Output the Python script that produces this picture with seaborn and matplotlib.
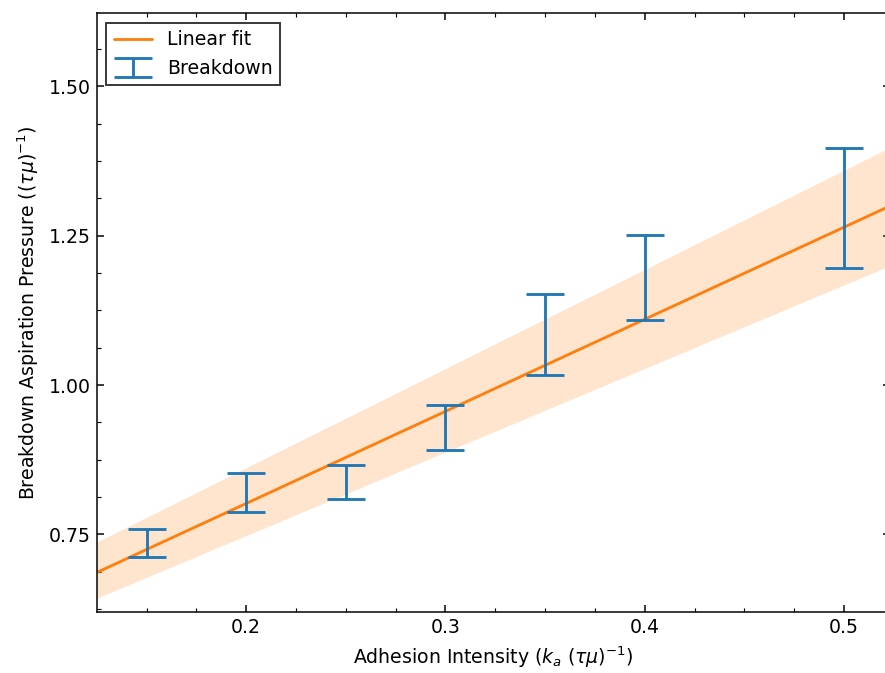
import matplotlib
matplotlib.use("Agg")
import matplotlib.pyplot as plt
import seaborn as sns
import numpy as np
from matplotlib.ticker import MultipleLocator

# ---- data ----
adhesion = [0.15, 0.20, 0.25, 0.30, 0.35, 0.40, 0.50]
pressure_mid = [0.7355, 0.820, 0.8375, 0.929, 1.084, 1.180, 1.297]
pressure_err = [0.0235, 0.033, 0.0285, 0.038, 0.068, 0.0715, 0.1005]

fit_x = [0.120, 0.530]
fit_y = [0.6783, 1.3105]
band_lo = [0.6360, 1.2096]
band_hi = [0.7287, 1.4095]

xticks = [0.2, 0.3, 0.4, 0.5]
yticks = [0.75, 1.00, 1.25, 1.50]
ytick_labels = ["0.75", "1.00", "1.25", "1.50"]

DPI = 136
sns.set_theme(style="ticks")
plt.rcParams.update({
    "font.family": ["DejaVu Sans"],
    "font.size": 10,
    "axes.linewidth": 0.8,
    "xtick.direction": "in",
    "ytick.direction": "in",
    "xtick.top": True,
    "ytick.right": True,
    "xtick.color": "black",
    "ytick.color": "black",
    "axes.edgecolor": "black",
    "axes.labelcolor": "black",
    "text.color": "black",
    "xtick.major.size": 3.5,
    "ytick.major.size": 3.5,
    "xtick.minor.size": 2,
    "ytick.minor.size": 2,
    "xtick.major.width": 0.8,
    "ytick.major.width": 0.8,
    "xtick.minor.width": 0.6,
    "ytick.minor.width": 0.6,
    "xtick.labelsize": 10,
    "ytick.labelsize": 10,
    "axes.labelsize": 10,
    "legend.fontsize": 10,
})

W, H = 885, 673
fig = plt.figure(figsize=(W / DPI, H / DPI), dpi=DPI)
left_px, right_px, top_px, bottom_px = 97, 890, 13.3, 611.5
ax = fig.add_axes([left_px / W, 1 - bottom_px / H,
                   (right_px - left_px) / W, (bottom_px - top_px) / H])

ax.fill_between(fit_x, band_lo, band_hi, color="#ff7f0e", alpha=0.2,
                linewidth=0)
sns.lineplot(x=fit_x, y=fit_y, ax=ax, color="#ff7f0e", linewidth=1.5,
             label="Linear fit")
ax.errorbar(adhesion, pressure_mid, yerr=pressure_err, fmt="none",
            ecolor="#1f77b4", elinewidth=1.5, capsize=10, capthick=1.5,
            label="Breakdown")

ax.set_xlim(0.1251, 0.5231)
ax.set_ylim(0.6207, 1.6225)
ax.set_xticks(xticks)
ax.set_xticklabels([str(v) for v in xticks])
ax.set_yticks(yticks)
ax.set_yticklabels(ytick_labels)
ax.xaxis.set_minor_locator(MultipleLocator(0.025))
ax.yaxis.set_minor_locator(MultipleLocator(0.0625))
ax.tick_params(which="both", direction="in", top=True, right=True)

ax.set_xlabel(r"Adhesion Intensity ($k_a$ $(\tau\mu)^{-1}$)")
ax.set_ylabel(r"Breakdown Aspiration Pressure ($(\tau\mu)^{-1}$)")

leg = ax.legend(loc="upper left", fancybox=False, edgecolor="black",
                framealpha=0.8, fontsize=10)

fig.savefig("out.png", dpi=DPI)
